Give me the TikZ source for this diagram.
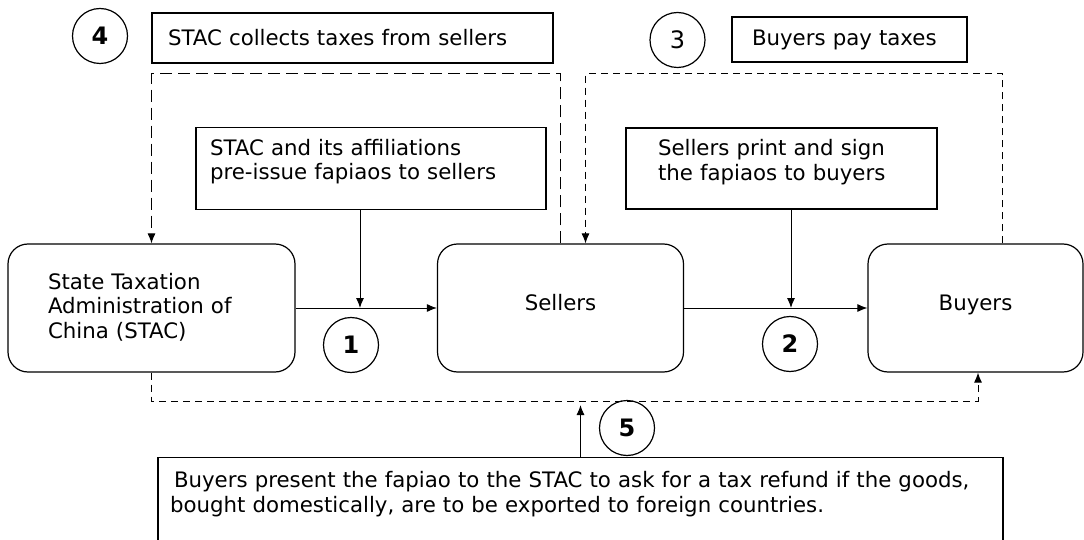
\documentclass[tikz,border=0pt]{standalone}
\usepackage{fontspec}
\setmainfont{DejaVu Sans}
\usetikzlibrary{shapes,arrows.meta,positioning}

\begin{document}
\begin{tikzpicture}[x=1pt, y=-1pt, line width=1.2pt,
	every node/.style={font=\fontsize{21.3}{24.5}\selectfont},
	>={Latex[length=10pt,width=8pt]},
	party/.style={draw, rounded corners=20pt, align=left},
	note/.style={draw, align=left},
	stepnum/.style={draw, circle, minimum size=55pt, inner sep=0pt,
		font=\fontsize{24}{28}\selectfont\bfseries},
	link/.style={->, line width=1pt},
	dashA/.style={->, dash pattern=on 12pt off 6pt, line width=1pt},
	dashB/.style={->, dash pattern=on 7pt off 5pt, line width=1pt}]
\useasboundingbox (0,0) rectangle (1084,540);

% the three parties
\node [party, text width=207pt, inner xsep=40pt, inner ysep=0pt,
	text height=45pt, text depth=83pt] (stac) at (151.5,308)
	{State Taxation\\Administration of\\China (STAC)};
\node [party, align=center, minimum width=246pt, minimum height=128pt,
	text height=14pt, text depth=10pt] (sellers) at (560.5,308) {Sellers};
\node [party, align=center, minimum width=215pt, minimum height=128pt,
	text height=14pt, text depth=10pt] (buyers) at (975.5,308) {Buyers};

% notes
\node [note, text width=322pt, inner xsep=14pt, inner ysep=8pt,
	text height=20pt, text depth=46pt] (issue) at (371,168.5)
	{STAC and its affiliations\\pre-issue fapiaos to sellers};
\node [note, text width=247pt, inner xsep=32pt, inner ysep=8pt,
	text height=20pt, text depth=45pt] (sign) at (781.5,168.5)
	{Sellers print and sign\\the fapiaos to buyers};
\node [note, text width=369pt, inner xsep=16pt, minimum height=50pt]
	(collect) at (352.5,38) {STAC collects taxes from sellers};
\node [note, text width=195pt, inner xsep=20pt, minimum height=45pt]
	(pay) at (849.5,39.5) {Buyers pay taxes};
\node [note, text width=821pt, inner xsep=12pt, inner ysep=14pt,
	text height=16pt, text depth=70pt, anchor=north] (refund) at (580.5,457)
	{\hspace*{4pt}Buyers present the fapiao to the STAC to ask for a tax refund if the goods,\\
	bought domestically, are to be exported to foreign countries.};

% step numbers
\node [stepnum] (n1) at (351,345) {1};
\node [stepnum] (n2) at (790,344) {2};
\node [stepnum, font=\fontsize{24}{28}\selectfont] (n3) at (677.5,40) {3};
\node [stepnum] (n4) at (100,36) {4};
\node [stepnum] (n5) at (627,428) {5};

\coordinate (top) at (0,74);
\coordinate (bottom) at (0,401);

% fapiao flow
\draw [link] (stac.east) -- (sellers.west);
\draw [link] (sellers.east) -- (buyers.west);
\draw [link] ([xshift=-11pt]issue.south) -- ([xshift=-11pt]issue.south |- stac.east);
\draw [link] ([xshift=9.5pt]sign.south) -- ([xshift=9.5pt]sign.south |- sellers.east);

% tax flow
\draw [dashA] (sellers.north) -- (sellers.north |- top) -| (stac.north);
\draw [dashB] ([xshift=27pt]buyers.north) -- ([xshift=27pt]buyers.north |- top)
	-| ([xshift=25pt]sellers.north);
\draw [dashB] (stac.south) -- (stac.south |- bottom)
	-| ([xshift=2.5pt]buyers.south);
\draw [link] (refund.north) -- ++(0,-52);
\end{tikzpicture}
\end{document}
